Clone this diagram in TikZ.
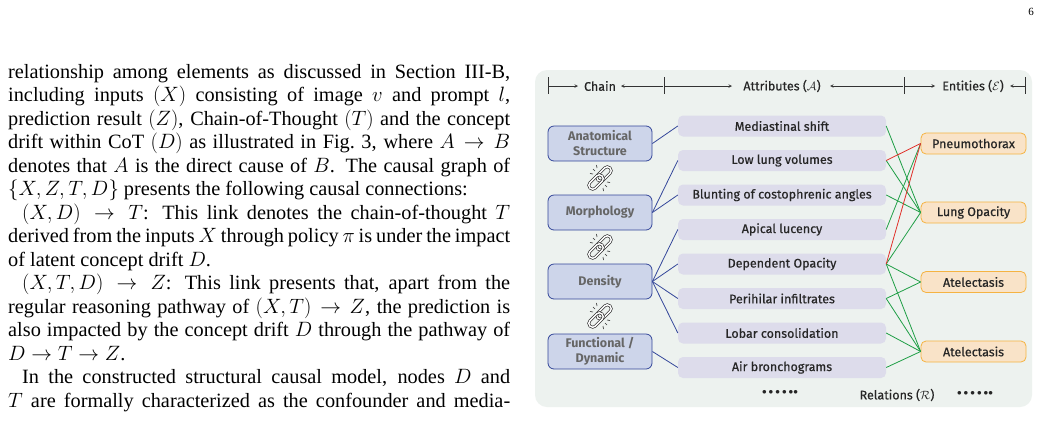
\documentclass[tikz,border=0pt]{standalone}
\usepackage{fontspec}
\setmainfont{Liberation Serif}
\setsansfont{Fira Sans}
\newfontfamily\medsf{Fira Sans}[FakeBold=0.5]
\begin{document}
\begin{tikzpicture}[x=1pt,y=-1pt,
  chainb/.style={draw=chainc,fill=chainf,line width=0.8pt,rounded corners=6pt,minimum width=104pt,minimum height=35pt,inner sep=0pt,align=center,font=\sffamily\bfseries\fontsize{12.5}{15}\selectfont,text=gray!80!black},
  attr/.style={fill=attrf,rounded corners=5pt,minimum width=208pt,minimum height=21pt,inner sep=0pt,font=\medsf\fontsize{12.5}{14}\selectfont,text=black!85},
  ent/.style={draw=entc,fill=entf,line width=0.8pt,rounded corners=5pt,minimum width=105pt,minimum height=21pt,inner sep=0pt,font=\medsf\fontsize{12.5}{14}\selectfont,text=black!85},
  hd/.style={font=\medsf\fontsize{12.5}{14}\selectfont,inner sep=0pt,text=black!85},
  cl/.style={draw=chainc,line width=0.8pt},
  gl/.style={draw=greenc,line width=0.8pt},
  rl/.style={draw=redc,line width=0.8pt},
  harr/.style={->,>=stealth,line width=0.6pt,black!80},
  linkicon/.pic={
    \foreach \a/\b in {4/-4,-4/4}{
      \draw[black!80,line width=0.7pt,double=white,double distance=1.4pt,rounded corners=3.5pt,rotate around={45:(\a,\b)}] (\a-8.5,\b-3.8) rectangle (\a+8.5,\b+3.8);}
    \draw[black!80,line width=0.6pt] (-5,-7)--(-7,-9) (-7,-4)--(-10,-4.5) (-3,-10)--(-3.5,-13)
      (5,7)--(7,9) (7,4)--(10,4.5) (3,10)--(3.5,13);
  }]
\definecolor{chainc}{HTML}{34479A}
\definecolor{chainf}{HTML}{CDD5EA}
\definecolor{attrf}{HTML}{DDDCEB}
\definecolor{entc}{HTML}{F5B342}
\definecolor{entf}{HTML}{F9E3C8}
\definecolor{greenc}{HTML}{1E9E45}
\definecolor{redc}{HTML}{E0302A}
\definecolor{panel}{HTML}{EDF2EF}
\useasboundingbox (0,0) rectangle (1041,424);
\fill[white] (0,0) rectangle (1041,424);

\node[anchor=north east,inner sep=0pt,font=\fontsize{11}{12}\selectfont] (pg) at (1034,8) {6};

\node[anchor=north west,inner sep=0pt,text width=502pt,align=justify] (txt) at (8,64) {%
\fontsize{20.3}{23.5}\selectfont\setlength{\parindent}{14pt}\hyphenpenalty=10000
\noindent relationship among elements as discussed in Section III-B,\linebreak
including inputs $(X)$ consisting of image $v$ and prompt $l$,\linebreak
prediction result $(Z)$, Chain-of-Thought $(T)$ and the concept\linebreak
drift within CoT $(D)$ as illustrated in Fig.~3, where $A \rightarrow B$\linebreak
denotes that $A$ is the direct cause of $B$. The causal graph of\linebreak
$\{X, Z, T, D\}$ presents the following causal connections:\par
\indent$(X, D) \rightarrow T$: This link denotes the chain-of-thought $T$\linebreak
derived from the inputs $X$ through policy $\pi$ is under the impact\linebreak
of latent concept drift $D$.\par
\indent$(X, T, D) \rightarrow Z$: This link presents that, apart from the\linebreak
regular reasoning pathway of $(X, T) \rightarrow Z$, the prediction is\linebreak
also impacted by the concept drift $D$ through the pathway of\linebreak
$D \rightarrow T \rightarrow Z$.\par
\indent In the constructed structural causal model, nodes $D$ and\linebreak
$T$ are formally characterized as the confounder and media-{\parfillskip=0pt\par}};

\path[fill=panel,rounded corners=12pt] (535,70) rectangle (1032,407);

% header
\coordinate (b1t) at (548,77); \coordinate (b1b) at (548,94);
\coordinate (b2t) at (664,77); \coordinate (b2b) at (664,94);
\coordinate (b3t) at (904,77); \coordinate (b3b) at (904,94);
\coordinate (b4t) at (1025,77); \coordinate (b4b) at (1025,94);
\draw[line width=0.7pt,black!80] (b1t)--(b1b) (b2t)--(b2b) (b3t)--(b3b) (b4t)--(b4b);
\node[hd] (hc) at (600,86) {Chain};
\node[hd] (ha) at (782,86) {Attributes ($\mathcal{A}$)};
\node[hd] (he) at (973,86) {Entities ($\mathcal{E}$)};
\coordinate (a1s) at (548,86); \coordinate (a1e) at (578,86);
\coordinate (a2s) at (663,86); \coordinate (a2e) at (621,86);
\coordinate (a3s) at (664,86); \coordinate (a3e) at (732,86);
\coordinate (a4s) at (903,86); \coordinate (a4e) at (830,86);
\coordinate (a5s) at (904,86); \coordinate (a5e) at (935,86);
\coordinate (a6s) at (1025,86); \coordinate (a6e) at (1010,86);
\foreach \s/\e in {a1s/a1e,a2s/a2e,a3s/a3e,a4s/a4e,a5s/a5e,a6s/a6e} \draw[harr] (\s)--(\e);

% chain boxes
\node[chainb] (c1) at (600,143.5) {Anatomical\\Structure};
\node[chainb] (c2) at (600,212.5) {Morphology};
\node[chainb] (c3) at (600,281.5) {Density};
\node[chainb] (c4) at (600,351.5) {Functional /\\Dynamic};
\pic at (600,178) {linkicon};
\pic at (600,247) {linkicon};
\pic at (600,316) {linkicon};

% attributes
\node[attr] (t1) at (782,126) {Mediastinal shift};
\node[attr] (t2) at (782,160.5) {Low lung volumes};
\node[attr] (t3) at (782,195) {Blunting of costophrenic angles};
\node[attr] (t4) at (782,229.5) {Apical lucency};
\node[attr] (t5) at (782,264) {Dependent Opacity};
\node[attr] (t6) at (782,298.5) {Perihilar infiltrates};
\node[attr] (t7) at (782,333) {Lobar consolidation};
\node[attr] (t8) at (782,367.5) {Air bronchograms};

% entities
\node[ent] (e1) at (973.5,143.5) {Pneumothorax};
\node[ent] (e2) at (973.5,212.5) {Lung Opacity};
\node[ent] (e3) at (973.5,282) {Atelectasis};
\node[ent] (e4) at (973.5,351.5) {Atelectasis};

% chain-attribute links
\draw[cl] (c1.east)--(t1.west);
\draw[cl] (c2.east)--(t2.west); \draw[cl] (c2.east)--(t3.west);
\foreach \t in {t4,t5,t6,t7} \draw[cl] (c3.east)--(\t.west);
\draw[cl] (c4.east)--(t8.west);

% attribute-entity links
\draw[gl] (t1.east)--(e2.west);
\draw[gl] (t2.east)--(e2.west);
\draw[gl] (t3.east)--(e2.west);
\draw[gl] (t4.east)--(e1.west);
\draw[gl] (t5.east)--(e2.west);
\draw[gl] (t5.east)--(e3.west);
\draw[gl] (t5.east)--(e4.west);
\draw[gl] (t6.east)--(e3.west);
\draw[gl] (t6.east)--(e4.west);
\draw[gl] (t7.east)--(e4.west);
\draw[gl] (t8.east)--(e4.west);
\draw[rl] (t2.east)--(e1.west);
\draw[rl] (t5.east)--(e1.west);

% bottom
\node[hd,font=\fontsize{9}{10}\selectfont] (d1) at (780,392) {$\bullet\bullet\bullet\bullet\bullet\bullet$};
\node[hd] (rel) at (897,395) {Relations ($\mathcal{R}$)};
\node[hd,font=\fontsize{9}{10}\selectfont] (d2) at (975,393) {$\bullet\bullet\bullet\bullet\bullet\bullet$};
\end{tikzpicture}
\end{document}
